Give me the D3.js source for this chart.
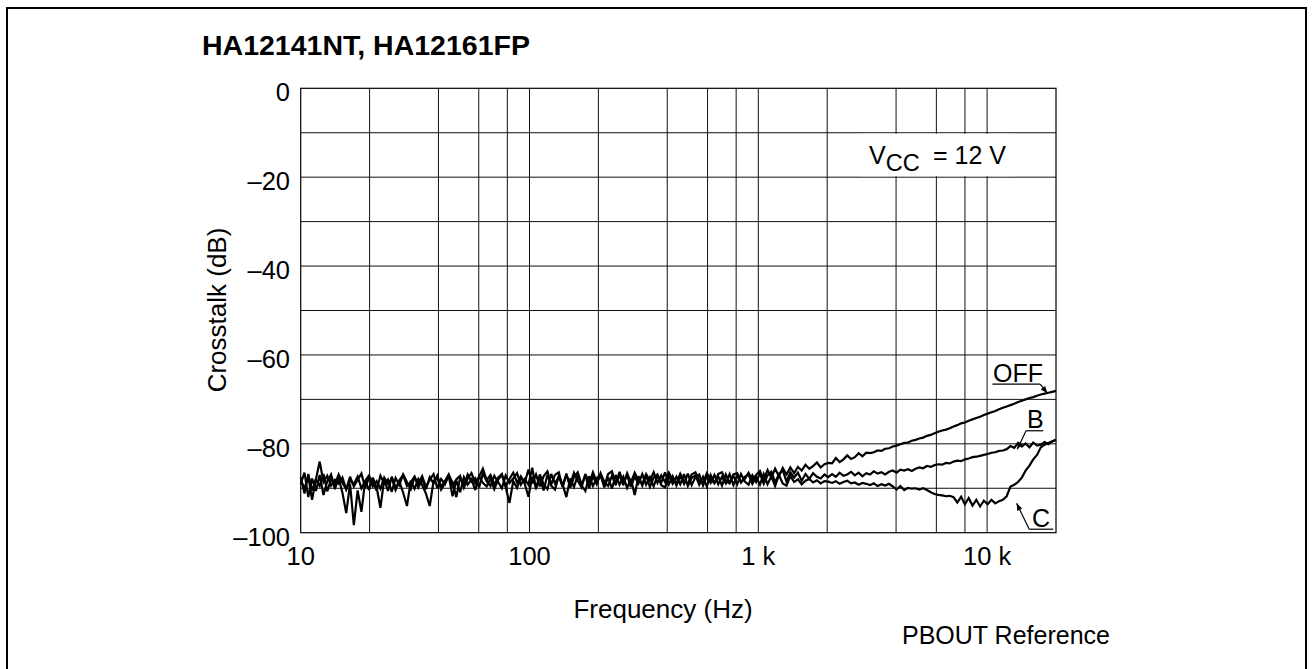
<!DOCTYPE html>
<html><head><meta charset="utf-8">
<script src="https://cdn.jsdelivr.net/npm/d3@7/dist/d3.min.js"></script>
<style>
html,body{margin:0;padding:0;background:#fff;}
svg{display:block;font-family:"Liberation Sans",Arial,Helvetica,sans-serif;}
</style></head>
<body><svg id="chart" width="1314" height="669"></svg>
<script>
// ---------- data ----------
const title = "HA12141NT, HA12161FP";
const xTickValues = [10, 100, 1000, 10000];
const xTickLabels = ["10", "100", "1 k", "10 k"];
const xGridValues = [20, 40, 60, 80, 100, 200, 400, 600, 800, 1000, 2000, 4000, 6000, 8000, 10000];
const yTickValues = [0, -20, -40, -60, -80, -100];
const yTickLabels = ["0", "\u201320", "\u201340", "\u201360", "\u201380", "\u2013100"];
const yGridValues = [-10, -20, -30, -40, -50, -60, -70, -80, -90];
const nPoints = 200; // sweep points, 10 Hz .. 20 kHz (log sweep)
const freqs = d3.range(nPoints).map(i => 10 * Math.pow(2000, i / (nPoints - 1)));

const offValues = [
-87.5,-91.2,-86.8,-90.5,-88.0,-84.0,-88.6,-87.2,-89.4,-88.1,
-89.0,-87.6,-90.3,-88.2,-89.1,-87.4,-90.0,-88.3,-87.1,-89.6,
-88.4,-90.1,-87.6,-89.0,-87.8,-90.4,-88.2,-87.0,-89.5,-88.6,
-87.4,-89.8,-88.0,-90.2,-87.5,-88.9,-87.1,-89.7,-88.3,-86.9,
-89.4,-88.0,-87.2,-89.9,-87.8,-86.6,-88.9,-87.4,-85.6,-88.2,
-87.0,-89.1,-87.6,-86.8,-89.5,-87.9,-86.5,-88.7,-87.3,-88.8,
-85.8,-88.9,-86.9,-89.6,-87.3,-86.2,-89.1,-87.0,-86.4,-89.7,
-87.0,-89.2,-86.5,-88.3,-89.8,-86.8,-88.9,-86.4,-88.6,-87.1,
-89.5,-86.8,-86.2,-88.9,-87.1,-89.3,-86.6,-88.7,-86.5,-88.2,
-89.0,-86.8,-88.3,-86.4,-88.8,-87.1,-88.6,-86.5,-88.1,-88.9,
-86.7,-88.4,-89.0,-86.9,-86.4,-88.3,-88.8,-86.6,-88.0,-88.9,
-86.8,-86.4,-88.4,-88.9,-86.9,-86.6,-88.6,-87.9,-86.5,-88.2,
-87.0,-86.1,-88.2,-85.9,-87.6,-85.6,-87.3,-85.4,-86.9,-85.3,
-86.6,-85.2,-86.0,-84.7,-85.6,-85.0,-84.2,-85.3,-84.6,-84.3,
-84.4,-83.2,-84.1,-83.5,-82.6,-83.4,-83.0,-82.1,-82.8,-82.0,
-82.1,-81.9,-81.5,-81.6,-81.1,-81.0,-80.6,-80.4,-80.1,-79.8,
-79.7,-79.3,-79.1,-78.8,-78.6,-78.2,-78.0,-77.6,-77.3,-77.0,
-76.8,-76.5,-76.1,-75.8,-75.4,-75.2,-74.8,-74.5,-74.2,-73.9,
-73.5,-73.2,-72.9,-72.6,-72.2,-71.9,-71.6,-71.3,-71.0,-70.6,
-70.3,-70.0,-69.7,-69.5,-69.2,-68.9,-68.7,-68.5,-68.3,-68.1
];
const bValues = [
-89.0,-86.5,-92.0,-87.8,-90.6,-87.0,-91.5,-88.4,-86.9,-90.2,
-87.7,-91.0,-95.6,-89.0,-98.3,-90.5,-95.3,-88.2,-90.4,-87.6,
-89.8,-94.4,-88.0,-90.6,-87.4,-89.9,-88.5,-91.0,-94.0,-88.3,
-90.1,-87.9,-89.3,-91.2,-94.0,-88.4,-87.6,-90.3,-88.9,-87.2,
-91.8,-88.3,-90.9,-87.5,-89.2,-88.0,-90.4,-87.3,-88.8,-89.6,
-87.8,-90.2,-88.1,-87.0,-89.7,-93.3,-88.4,-89.9,-87.6,-88.9,
-91.9,-87.4,-89.9,-87.6,-90.5,-87.0,-89.4,-90.3,-87.2,-89.1,
-92.0,-87.8,-89.7,-87.1,-89.4,-90.6,-87.3,-89.5,-87.7,-86.9,
-89.8,-87.5,-90.1,-87.0,-89.2,-87.4,-89.9,-87.9,-91.5,-87.3,
-89.4,-87.1,-89.7,-87.6,-86.9,-89.3,-89.8,-87.2,-89.0,-87.4,
-89.1,-86.8,-89.5,-87.7,-87.1,-89.2,-87.4,-89.6,-87.0,-88.8,
-87.3,-89.4,-86.9,-88.7,-87.2,-89.1,-86.8,-88.5,-89.2,-87.1,
-88.6,-86.7,-89.0,-87.1,-86.3,-88.7,-86.8,-85.9,-88.5,-86.4,
-87.6,-86.5,-88.3,-86.8,-87.9,-86.6,-87.4,-87.8,-86.9,-87.5,
-86.8,-87.4,-86.5,-87.2,-86.9,-86.3,-87.1,-86.5,-87.3,-86.6,
-86.9,-86.2,-86.7,-86.4,-86.9,-86.3,-86.0,-86.5,-85.8,-86.0,
-85.7,-86.1,-85.6,-85.3,-85.5,-85.0,-85.2,-84.8,-84.6,-84.7,
-84.3,-84.4,-84.0,-83.8,-83.9,-83.5,-83.3,-83.0,-82.9,-82.7,
-82.5,-82.3,-82.0,-81.9,-81.6,-81.5,-81.2,-80.5,-80.9,-79.8,
-80.6,-79.9,-80.8,-79.7,-80.4,-80.2,-79.6,-80.1,-79.5,-79.1
];
const cValues = [
-88.2,-90.0,-87.3,-92.6,-87.9,-89.5,-86.8,-90.7,-88.0,-89.2,
-86.9,-88.8,-90.2,-87.4,-89.6,-88.1,-86.7,-89.9,-87.6,-88.5,
-90.5,-87.2,-89.0,-88.0,-90.8,-87.7,-89.3,-86.9,-88.6,-90.2,
-87.5,-88.9,-87.3,-89.7,-88.1,-86.8,-90.0,-87.9,-89.1,-87.0,
-88.7,-92.0,-87.6,-89.3,-86.9,-88.5,-87.7,-89.8,-86.7,-88.4,
-89.5,-87.2,-88.6,-90.0,-87.1,-88.8,-87.8,-86.6,-89.2,-87.9,
-89.2,-85.4,-90.1,-86.9,-89.1,-90.2,-86.8,-88.9,-87.4,-89.6,
-86.7,-89.9,-87.5,-86.4,-89.2,-87.1,-90.0,-87.3,-89.1,-86.6,
-88.6,-89.5,-87.2,-89.3,-86.3,-88.8,-87.1,-89.7,-87.4,-88.9,
-86.8,-89.2,-87.5,-89.6,-87.1,-88.7,-86.4,-89.1,-87.3,-89.4,
-87.2,-89.0,-86.7,-89.3,-87.5,-86.9,-89.4,-87.3,-88.8,-87.0,
-89.1,-87.4,-88.9,-86.8,-89.3,-87.1,-88.7,-87.4,-86.9,-89.0,
-87.4,-89.2,-86.8,-89.1,-87.3,-89.5,-87.0,-88.9,-89.4,-87.2,
-88.6,-88.0,-89.1,-88.3,-87.9,-88.7,-88.2,-88.9,-88.4,-88.5,
-88.8,-88.4,-89.0,-88.6,-88.3,-88.9,-88.7,-89.2,-88.8,-89.0,
-89.3,-88.9,-89.5,-89.1,-89.4,-89.0,-89.6,-90.3,-89.5,-90.4,
-89.9,-90.1,-90.0,-90.3,-90.0,-90.4,-90.9,-91.3,-91.5,-91.6,
-91.8,-91.7,-92.0,-93.2,-91.9,-93.6,-92.2,-93.9,-92.6,-94.1,
-92.8,-93.6,-92.6,-93.4,-92.9,-92.6,-91.8,-89.6,-89.2,-88.6,
-87.6,-86.0,-84.9,-83.5,-82.5,-80.8,-80.2,-79.8,-79.4,-79.1
];
const seriesNames = ["OFF", "B", "C"];
const seriesValues = [offValues, bValues, cValues];

// annotation anchors in data units (Hz, dB)
const annLabel   = ["OFF", "B", "C"];
const annTextF   = [10620, 14930, 15700];
const annTextDb  = [-66.0, -76.5, -98.65];
const annLineF0  = [10550, 14800, 15280];   // underline start
const annLineF1  = [17050, 17600, 19450];   // underline end
const annLeadFromEnd = [true, false, false]; // leader starts from underline end (true) or start (false)
const annTipF    = [18330, 13550, 13460];
const annTipDb   = [-68.6, -81.2, -93.4];

// ---------- drawing ----------
const svg = d3.select("#chart");

// outer frame
svg.append("rect").attr("x", 7).attr("y", 8).attr("width", 1299).attr("height", 700)
  .attr("fill", "none").attr("stroke", "#000").attr("stroke-width", 2);

const x = d3.scaleLog().domain([10, 20000]).range([300.7, 1056]);
const y = d3.scaleLinear().domain([-100, 0]).range([532.7, 88.3]);

svg.append("text").attr("x", 202).attr("y", 55)
  .attr("font-size", 28.5).attr("font-weight", "bold").attr("fill", "#000").text(title);

const grid = svg.append("g");
grid.selectAll("line.v").data(xGridValues).join("line")
  .attr("x1", d => x(d)).attr("x2", d => x(d))
  .attr("y1", y(0)).attr("y2", y(-100))
  .attr("stroke", "#111").attr("stroke-width", 1);
grid.selectAll("line.h").data(yGridValues).join("line")
  .attr("x1", x(10)).attr("x2", x(20000))
  .attr("y1", d => y(d)).attr("y2", d => y(d))
  .attr("stroke", "#111").attr("stroke-width", 1);

// Vcc label with white background
const vcc = svg.append("text").attr("x", 869).attr("y", 163.5).attr("font-size", 25).attr("fill", "#000");
vcc.append("tspan").text("V");
vcc.append("tspan").attr("dy", 7).attr("font-size", 23.5).text("CC");
vcc.append("tspan").attr("x", 933).attr("dy", -7).text("= 12 V");
const bb = vcc.node().getBBox();
svg.insert("rect", "text:last-of-type")
  .attr("x", bb.x - 8).attr("width", bb.width + 16)
  .attr("y", y(-10) + 1).attr("height", y(-20) - y(-10) - 2)
  .attr("fill", "#fff");
vcc.raise();

// series
const line = d3.line().x((d, i) => x(freqs[i])).y(d => y(d));
svg.append("g").selectAll("path").data(seriesValues).join("path")
  .attr("d", d => line(d))
  .attr("fill", "none").attr("stroke", "#000").attr("stroke-width", 2.2)
  .attr("stroke-linejoin", "miter").attr("stroke-miterlimit", 3);

// plot border
svg.append("rect").attr("x", x(10)).attr("y", y(0))
  .attr("width", x(20000) - x(10)).attr("height", y(-100) - y(0))
  .attr("fill", "none").attr("stroke", "#000").attr("stroke-width", 1.2);

// axes labels
svg.append("g").selectAll("text").data(yTickValues).join("text")
  .attr("x", 290).attr("y", d => y(d) + 4)
  .attr("text-anchor", "end").attr("dominant-baseline", "central")
  .attr("font-size", 25.5).attr("fill", "#000")
  .text((d, i) => yTickLabels[i]);
svg.append("g").selectAll("text").data(xTickValues).join("text")
  .attr("x", d => x(d)).attr("y", 565)
  .attr("text-anchor", "middle").attr("font-size", 25.5).attr("fill", "#000")
  .text((d, i) => xTickLabels[i]);

svg.append("text").attr("x", 663).attr("y", 618).attr("text-anchor", "middle")
  .attr("font-size", 26).attr("fill", "#000").text("Frequency (Hz)");
svg.append("text").attr("transform", "translate(226,310) rotate(-90)")
  .attr("text-anchor", "middle").attr("font-size", 26).attr("fill", "#000").text("Crosstalk (dB)");
svg.append("text").attr("x", 902).attr("y", 643.5)
  .attr("font-size", 25).attr("fill", "#000").text("PBOUT Reference");

// annotations
const defs = svg.append("defs");
defs.append("marker").attr("id", "arr").attr("viewBox", "0 0 10 10")
  .attr("refX", 10).attr("refY", 5).attr("markerWidth", 9).attr("markerHeight", 7)
  .attr("markerUnits", "userSpaceOnUse").attr("orient", "auto")
  .append("path").attr("d", "M0,1 L10,5 L0,9 Z").attr("fill", "#000");

const ann = svg.append("g");
annLabel.forEach((lab, i) => {
  const tx = x(annTextF[i]), ty = y(annTextDb[i]);
  ann.append("text").attr("x", tx).attr("y", ty).attr("font-size", 25).attr("fill", "#000").text(lab);
  const uy = ty + 2.5;
  const ux0 = x(annLineF0[i]), ux1 = x(annLineF1[i]);
  ann.append("line").attr("x1", ux0).attr("x2", ux1).attr("y1", uy).attr("y2", uy)
    .attr("stroke", "#000").attr("stroke-width", 1.2);
  const sx = annLeadFromEnd[i] ? ux1 : ux0;
  ann.append("line").attr("x1", sx).attr("y1", uy)
    .attr("x2", x(annTipF[i])).attr("y2", y(annTipDb[i]))
    .attr("stroke", "#000").attr("stroke-width", 1.2).attr("marker-end", "url(#arr)");
});
</script>
</body></html>
